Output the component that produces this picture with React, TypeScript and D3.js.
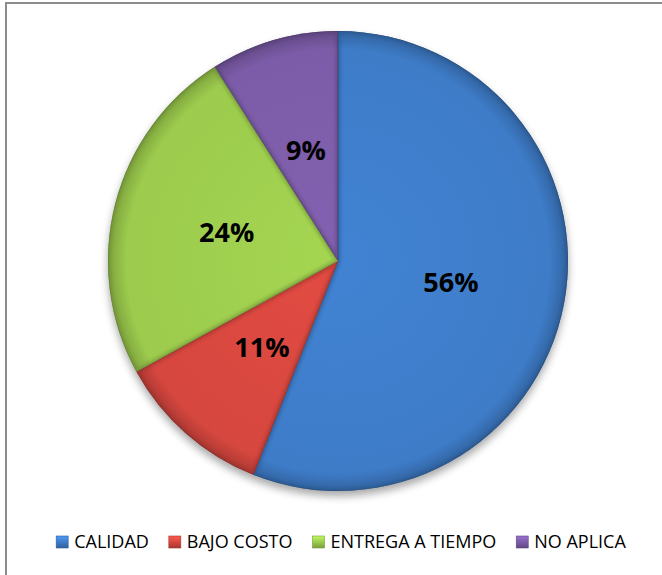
import React, { useEffect, useRef } from "react";
import * as d3 from "d3";

const categories = ["CALIDAD", "BAJO COSTO", "ENTREGA A TIEMPO", "NO APLICA"];
const values = [56, 11, 24, 9];
const labels = ["56%", "11%", "24%", "9%"];
const colors = ["#3e7cc8", "#d6473f", "#9ccb4d", "#7c5ca8"];

const W = 662;
const H = 575;

export default function App() {
  const ref = useRef<SVGSVGElement | null>(null);

  useEffect(() => {
    const svg = d3.select(ref.current);
    svg.selectAll("*").remove();

    const cx = 338;
    const cy = 261;
    const R = 230;

    const defs = svg.append("defs");
    defs
      .append("filter")
      .attr("id", "shadow")
      .attr("x", "-20%")
      .attr("y", "-20%")
      .attr("width", "140%")
      .attr("height", "140%")
      .append("feGaussianBlur")
      .attr("stdDeviation", 4);
    defs
      .append("filter")
      .attr("id", "soft")
      .append("feGaussianBlur")
      .attr("stdDeviation", 1.6);

    colors.forEach((c, i) => {
      const g = defs
        .append("radialGradient")
        .attr("id", `rg${i}`)
        .attr("gradientUnits", "userSpaceOnUse")
        .attr("cx", 0)
        .attr("cy", 0)
        .attr("r", R);
      const base = d3.color(c)!;
      g.append("stop").attr("offset", 0).attr("stop-color", base.brighter(0.15).formatHex());
      g.append("stop").attr("offset", 0.92).attr("stop-color", c);
      g.append("stop").attr("offset", 1).attr("stop-color", base.darker(0.6).formatHex());

      const lg = defs
        .append("linearGradient")
        .attr("id", `lg${i}`)
        .attr("x1", 0)
        .attr("y1", 0)
        .attr("x2", 0)
        .attr("y2", 1);
      lg.append("stop").attr("offset", 0).attr("stop-color", base.brighter(0.6).formatHex());
      lg.append("stop").attr("offset", 0.5).attr("stop-color", c);
      lg.append("stop").attr("offset", 1).attr("stop-color", base.darker(0.7).formatHex());
    });

    // frame
    svg
      .append("rect")
      .attr("x", 6)
      .attr("y", 3)
      .attr("width", 720)
      .attr("height", 640)
      .attr("fill", "#ffffff")
      .attr("stroke", "#8c8c8c")
      .attr("stroke-width", 2);

    const root = svg.append("g").attr("transform", `translate(${cx},${cy})`);

    // shadow
    root
      .append("circle")
      .attr("cx", 0)
      .attr("cy", 5)
      .attr("r", R)
      .attr("fill", "#000")
      .attr("opacity", 0.35)
      .attr("filter", "url(#shadow)");

    const pie = d3
      .pie<number>()
      .sort(null)
      .value((d) => d)
      .startAngle(0)
      .endAngle(2 * Math.PI);
    const arcs = pie(values);
    const arc = d3.arc<d3.PieArcDatum<number>>().innerRadius(0).outerRadius(R);
    const labelArc = d3
      .arc<d3.PieArcDatum<number>>()
      .innerRadius(R * 0.5)
      .outerRadius(R * 0.5);

    arcs.forEach((a, i) => {
      const d = arc(a)!;
      defs.append("clipPath").attr("id", `cp${i}`).append("path").attr("d", d);
      const g = root.append("g");
      g.append("path").attr("d", d).attr("fill", `url(#rg${i})`);
      const gIn = g.append("g").attr("clip-path", `url(#cp${i})`);
      gIn
        .append("path")
        .attr("d", d)
        .attr("fill", "none")
        .attr("stroke", d3.color(colors[i])!.darker(1.2).formatHex())
        .attr("stroke-width", 6)
        .attr("opacity", 0.4)
        .attr("filter", "url(#soft)");
      gIn
        .append("path")
        .attr("d", d)
        .attr("fill", "none")
        .attr("stroke", d3.color(colors[i])!.darker(1.5).formatHex())
        .attr("stroke-width", 1.5)
        .attr("opacity", 0.55);
    });

    arcs.forEach((a, i) => {
      const [x, y] = labelArc.centroid(a);
      root
        .append("text")
        .attr("x", x)
        .attr("y", y + 9.6)
        .attr("text-anchor", "middle")
        .attr("font-family", "'Open Sans', sans-serif")
        .attr("font-weight", 700)
        .attr("font-size", 27)
        .attr("fill", "#000")
        .text(labels[i]);
    });

    // legend
    const fontSize = 18;
    const legend = svg.append("g");
    const items = legend
      .selectAll("g")
      .data(categories)
      .join("g");
    items
      .append("text")
      .attr("font-family", "'Open Sans', sans-serif")
      .attr("font-size", fontSize)
      .attr("fill", "#000")
      .attr("y", 548)
      .text((d) => d);
    const widths: number[] = [];
    items.select("text").each(function () {
      widths.push((this as SVGTextElement).getComputedTextLength());
    });
    const box = 12;
    const gap1 = 6;
    const gap2 = 20;
    const total =
      widths.reduce((s, w) => s + box + gap1 + w, 0) + gap2 * (widths.length - 1);
    let x = 341 - total / 2;
    items.each(function (_d, i) {
      const g = d3.select(this);
      g.insert("rect", "text")
        .attr("x", x)
        .attr("y", 536)
        .attr("width", box)
        .attr("height", box)
        .attr("fill", `url(#lg${i})`)
        .attr("stroke", d3.color(colors[i])!.darker(0.8).formatHex())
        .attr("stroke-width", 0.6);
      g.select("text").attr("x", x + box + gap1);
      x += box + gap1 + widths[i] + gap2;
    });
  }, []);

  return (
    <>
      <style>{"body{margin:0;overflow:hidden}"}</style>
      <svg
        ref={ref}
        width={W}
        height={H}
        style={{ position: "absolute", left: 0, top: 0, display: "block" }}
      />
    </>
  );
}
